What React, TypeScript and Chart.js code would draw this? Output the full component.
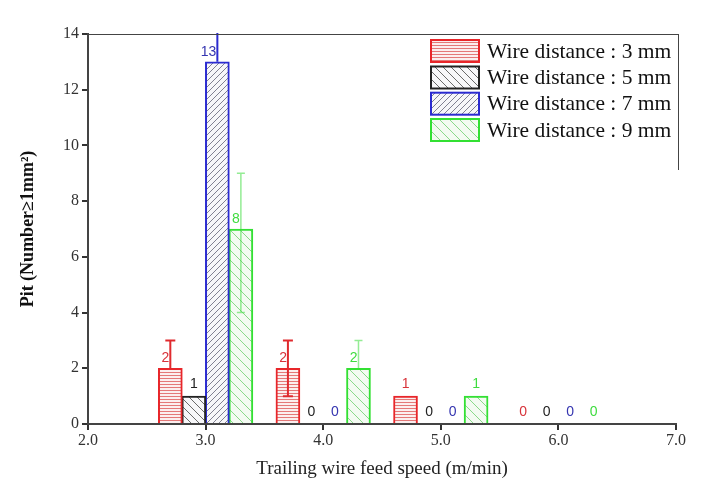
import React, { useEffect, useRef } from "react";
import { Chart, registerables } from "chart.js";

Chart.register(...registerables);

// ---- data ----
const feedSpeeds = [3, 4, 5, 6];
const seriesNames = [
  "Wire distance : 3 mm",
  "Wire distance : 5 mm",
  "Wire distance : 7 mm",
  "Wire distance : 9 mm",
];
const pit3mm = [2, 2, 1, 0];
const pit5mm = [1, 0, 0, 0];
const pit7mm = [13, 0, 0, 0];
const pit9mm = [7, 2, 1, 0];
const label3mm = ["2", "2", "1", "0"];
const label5mm = ["1", "0", "0", "0"];
const label7mm = ["13", "0", "0", "0"];
const label9mm = ["8", "2", "1", "0"];
const errHi3mm = [3, 3, null, null];
const errLo3mm = [null, 1, null, null];
const errHi5mm = [null, null, null, null];
const errLo5mm = [null, null, null, null];
const errHi7mm = [15, null, null, null];
const errLo7mm = [null, null, null, null];
const errHi9mm = [9, 3, null, null];
const errLo9mm = [4, null, null, null];
const xTicks = [2, 3, 4, 5, 6, 7];
const yTicks = [0, 2, 4, 6, 8, 10, 12, 14];

// ---- styles ----
const borderColors = ["#e8262a", "#222222", "#2b2bd0", "#33e033"];
const labelColors = ["#d8333a", "#222222", "#3535b0", "#3fdc3f"];
const errColors = ["#e02a2e", "#222222", "#2b2bd0", "rgba(60,220,60,0.55)"];
const SERIES_WIDTH = 0.2;

function makePattern(kind: number): CanvasPattern | string {
  const c = document.createElement("canvas");
  const ctx = c.getContext("2d");
  if (!ctx) return "#fff";
  if (kind === 0) {
    c.width = 6; c.height = 3;
    ctx.fillStyle = "#fbeeee"; ctx.fillRect(0, 0, 6, 3);
    ctx.fillStyle = "rgba(220,80,80,0.75)"; ctx.fillRect(0, 0, 6, 1);
  } else {
    const s = kind === 1 ? 8 : kind === 2 ? 6 : 10;
    c.width = s; c.height = s;
    ctx.fillStyle = kind === 3 ? "#f4fbf2" : "#f7f7f9";
    ctx.fillRect(0, 0, s, s);
    ctx.strokeStyle = kind === 1 ? "rgba(70,70,70,0.8)" : kind === 2 ? "rgba(90,90,110,0.75)" : "rgba(120,210,120,0.85)";
    ctx.lineWidth = 1;
    ctx.beginPath();
    if (kind === 2) {
      ctx.moveTo(-1, s + 1); ctx.lineTo(s + 1, -1);
      ctx.moveTo(-1 - s, s + 1); ctx.lineTo(1, -1);
      ctx.moveTo(s - 1, s + 1); ctx.lineTo(2 * s + 1, -1);
    } else {
      ctx.moveTo(-1, -1); ctx.lineTo(s + 1, s + 1);
      ctx.moveTo(-1 - s, -1); ctx.lineTo(1, s + 1);
      ctx.moveTo(s - 1, -1); ctx.lineTo(2 * s + 1, s + 1);
    }
    ctx.stroke();
  }
  return ctx.createPattern(c, "repeat") || "#fff";
}

export default function App() {
  const ref = useRef<HTMLCanvasElement>(null);
  useEffect(() => {
    document.body.style.margin = "0";
    const canvas = ref.current;
    if (!canvas) return;
    const values = [pit3mm, pit5mm, pit7mm, pit9mm];
    const labels = [label3mm, label5mm, label7mm, label9mm];
    const errHi = [errHi3mm, errHi5mm, errHi7mm, errHi9mm];
    const errLo = [errLo3mm, errLo5mm, errLo7mm, errLo9mm];
    const patterns = [0, 1, 2, 3].map(makePattern);

    const datasets = values.map((vals, i) => ({
      label: seriesNames[i],
      data: vals.map((v, j) => ({ x: feedSpeeds[j] + (i - 1.5) * SERIES_WIDTH, y: v })),
      backgroundColor: patterns[i] as any,
      borderColor: borderColors[i],
      borderWidth: 2,
      borderSkipped: "bottom" as const,
      grouped: false,
      barThickness: 24,
    }));

    const overlay = {
      id: "overlay",
      afterDatasetsDraw(chart: any) {
        const { ctx, chartArea, scales } = chart;
        const y = scales.y;
        // error bars
        ctx.save();
        ctx.beginPath();
        ctx.rect(chartArea.left, chartArea.top - 1, chartArea.right - chartArea.left, chartArea.bottom - chartArea.top + 1);
        ctx.clip();
        values.forEach((vals, i) => {
          const meta = chart.getDatasetMeta(i);
          vals.forEach((v, j) => {
            const hi = errHi[i][j];
            const lo = errLo[i][j];
            if (hi == null && lo == null) return;
            const x = meta.data[j].x;
            const yTop = y.getPixelForValue(hi != null ? hi : v);
            const yBot = y.getPixelForValue(lo != null ? lo : v);
            ctx.strokeStyle = errColors[i];
            ctx.lineWidth = i === 3 ? 1.5 : 2;
            ctx.beginPath();
            ctx.moveTo(x, yTop); ctx.lineTo(x, yBot);
            const cw = i === 3 ? 4 : 5;
            if (hi != null) { ctx.moveTo(x - cw, yTop); ctx.lineTo(x + cw, yTop); }
            if (lo != null) { ctx.moveTo(x - cw, yBot); ctx.lineTo(x + cw, yBot); }
            ctx.stroke();
          });
        });
        ctx.restore();
        // value labels
        ctx.save();
        ctx.font = "14px 'Liberation Sans', Arial, sans-serif";
        ctx.textBaseline = "alphabetic";
        values.forEach((vals, i) => {
          const meta = chart.getDatasetMeta(i);
          vals.forEach((v, j) => {
            const x = meta.data[j].x;
            const top = y.getPixelForValue(v);
            ctx.fillStyle = labelColors[i];
            if (errHi[i][j] != null) {
              ctx.textAlign = "right";
              ctx.fillText(labels[i][j], x - 1, top - 6);
            } else {
              ctx.textAlign = "center";
              ctx.fillText(labels[i][j], x, top - 8);
            }
          });
        });
        ctx.restore();
      },
      afterDraw(chart: any) {
        const { ctx, chartArea } = chart;
        ctx.save();
        // top frame line
        ctx.strokeStyle = "#444";
        ctx.lineWidth = 1;
        ctx.beginPath();
        ctx.moveTo(chartArea.left, chartArea.top + 0.5);
        ctx.lineTo(678, chartArea.top + 0.5);
        ctx.moveTo(678.5, chartArea.top);
        ctx.lineTo(678.5, 170);
        ctx.stroke();
        // legend
        const rowTop = [40, 66.5, 92.7, 119];
        ctx.font = "21.5px 'Liberation Serif', 'Times New Roman', serif";
        ctx.textBaseline = "middle";
        ctx.textAlign = "left";
        seriesNames.forEach((name, i) => {
          const sx = 431, sy = rowTop[i], sw = 48, sh = 22;
          ctx.fillStyle = patterns[i] as any;
          ctx.fillRect(sx, sy, sw, sh);
          ctx.strokeStyle = borderColors[i];
          ctx.lineWidth = 2;
          ctx.strokeRect(sx, sy, sw, sh);
          ctx.fillStyle = "#111";
          ctx.fillText(name, 487, sy + sh / 2 + 1);
        });
        ctx.restore();
      },
    };

    const chart = new Chart(canvas, {
      type: "bar",
      data: { datasets: datasets as any },
      options: {
        animation: false,
        responsive: false,
        layout: { padding: { top: 34, right: 27, left: 0, bottom: 0 } },
        plugins: { legend: { display: false }, tooltip: { enabled: false } },
        scales: {
          x: {
            type: "linear",
            min: 2,
            max: 7,
            offset: false,
            afterBuildTicks: (s: any) => { s.ticks = xTicks.map((v) => ({ value: v })); },
            afterFit: (s: any) => { s.height = 76; },
            ticks: {
              color: "#333",
              font: { family: "'Liberation Serif', 'Times New Roman', serif", size: 16 },
              padding: 1,
              callback: (v: any) => Number(v).toFixed(1),
              maxRotation: 0,
            },
            grid: { display: true, offset: false, drawOnChartArea: false, drawTicks: true, tickLength: 6, color: "#333", lineWidth: 2 },
            border: { display: true, color: "#444", width: 2 },
            title: {
              display: true,
              text: "Trailing wire feed speed (m/min)",
              color: "#222",
              font: { family: "'Liberation Serif', 'Times New Roman', serif", size: 19 },
              padding: { top: 4, bottom: 20 },
            },
          },
          y: {
            min: 0,
            max: 14,
            afterBuildTicks: (s: any) => { s.ticks = yTicks.map((v) => ({ value: v })); },
            afterFit: (s: any) => { s.width = 88; },
            ticks: {
              color: "#333",
              font: { family: "'Liberation Serif', 'Times New Roman', serif", size: 16 },
              padding: 3,
            },
            grid: { display: true, drawOnChartArea: false, drawTicks: true, tickLength: 6, color: "#333", lineWidth: 2 },
            border: { display: true, color: "#444", width: 2 },
            title: {
              display: true,
              text: "Pit (Number\u22651mm\u00B2)",
              color: "#111",
              font: { family: "'Liberation Serif', 'Times New Roman', serif", size: 18, weight: "bold" },
              padding: { top: 18, bottom: 6 },
            },
          },
        },
      },
      plugins: [overlay],
    });
    return () => chart.destroy();
  }, []);
  return <canvas ref={ref} width={703} height={500} style={{ display: "block" }} />;
}
